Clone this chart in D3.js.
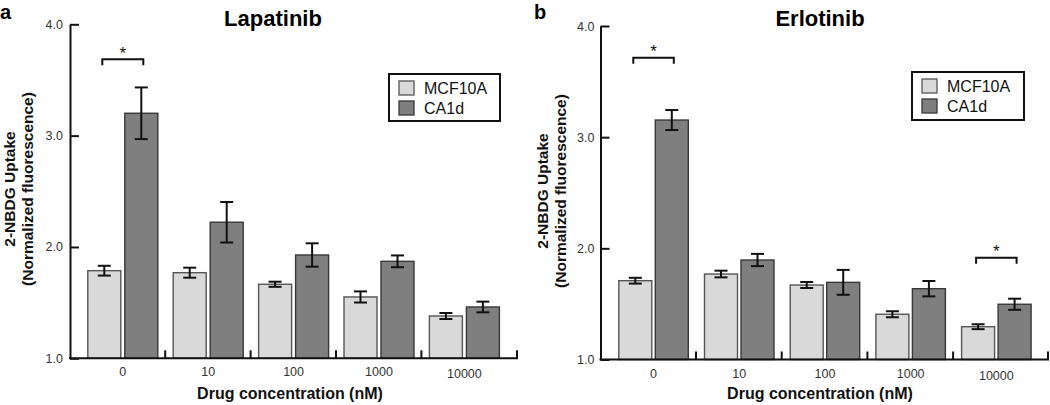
<!DOCTYPE html>
<html>
<head>
<meta charset="utf-8">
<script src="https://cdn.jsdelivr.net/npm/d3@7/dist/d3.min.js"></script>
<style>
  html, body { margin: 0; padding: 0; background: #fff; }
  svg { display: block; font-family: "Liberation Sans", Arial, Helvetica, sans-serif; }
</style>
</head>
<body>
<svg id="chart" width="1050" height="405"></svg>
<script>
// ---------- data ----------
const categories = ["0", "10", "100", "1000", "10000"];
const series = ["MCF10A", "CA1d"];
const yTicks = [1, 2, 3, 4];

const lapMCF10A    = [1.787, 1.769, 1.665, 1.551, 1.380];
const lapMCF10AErr = [0.044, 0.045, 0.023, 0.050, 0.027];
const lapCA1d      = [3.201, 2.222, 1.928, 1.871, 1.461];
const lapCA1dErr   = [0.232, 0.182, 0.105, 0.053, 0.048];

const erlMCF10A    = [1.709, 1.769, 1.670, 1.407, 1.295];
const erlMCF10AErr = [0.026, 0.030, 0.027, 0.027, 0.022];
const erlCA1d      = [3.154, 1.895, 1.694, 1.637, 1.497];
const erlCA1dErr   = [0.090, 0.055, 0.112, 0.069, 0.050];

const lapSig = [{ cat: "0", y: 3.686 }];
const erlSig = [{ cat: "0", y: 3.714 }, { cat: "10000", y: 1.915 }];

// ---------- styles ----------
const fills = { MCF10A: "#d9d9d9", CA1d: "#7f7f7f" };
const strokes = { MCF10A: "#555555", CA1d: "#383838" };

const panels = [
  {
    letter: "a", letterX: 0, title: "Lapatinib", titleX: 273,
    axisX: 70, yBottom: 358.3, yTop: 24.3, bandStart: 79.8, step: 85.4, axisEnd: 518,
    off: 8, bw: 33, gap: 4, tickPad: 7,
    yl1X: 15, yl2X: 33, ylY: 189, xTitleX: 290,
    legend: { x: 389, y: 74, w: 111, h: 47 },
    mcf: lapMCF10A, mcfErr: lapMCF10AErr, ca: lapCA1d, caErr: lapCA1dErr, sig: lapSig
  },
  {
    letter: "b", letterX: 534, title: "Erlotinib", titleX: 820,
    axisX: 600.5, yBottom: 359.5, yTop: 26, bandStart: 610.3, step: 85.7, axisEnd: 1049,
    off: 8.5, bw: 33, gap: 3.5, tickPad: 6,
    yl1X: 548, yl2X: 566, ylY: 191, xTitleX: 820,
    legend: { x: 912, y: 72, w: 112, h: 48 },
    mcf: erlMCF10A, mcfErr: erlMCF10AErr, ca: erlCA1d, caErr: erlCA1dErr, sig: erlSig
  }
];

const svg = d3.select("#chart");

function drawPanel(p) {
  const g = svg.append("g");
  const y = d3.scaleLinear().domain([1, 4]).range([p.yBottom, p.yTop]);
  const x = d3.scaleBand().domain(categories).range([p.bandStart, p.bandStart + 5 * p.step]);
  const xs = d3.scaleBand().domain(series)
    .range([p.off, p.off + 2 * p.bw + p.gap])
    .paddingInner(p.gap / (p.bw + p.gap)).paddingOuter(0);

  const rows = categories.map((c, i) => ({
    cat: c,
    vals: [
      { s: "MCF10A", v: p.mcf[i], e: p.mcfErr[i] },
      { s: "CA1d", v: p.ca[i], e: p.caErr[i] }
    ]
  }));

  // bars
  const grp = g.selectAll("g.grp").data(rows).join("g")
    .attr("transform", d => `translate(${x(d.cat)},0)`);
  grp.selectAll("rect").data(d => d.vals).join("rect")
    .attr("x", d => xs(d.s))
    .attr("y", d => y(d.v))
    .attr("width", xs.bandwidth())
    .attr("height", d => y(1) - y(d.v))
    .attr("fill", d => fills[d.s])
    .attr("stroke", d => strokes[d.s])
    .attr("stroke-width", 1.4);

  // error bars
  const cap = 6.5;
  const eb = grp.selectAll("g.eb").data(d => d.vals).join("g")
    .attr("stroke", "#111").attr("stroke-width", 2).attr("fill", "none");
  eb.append("line")
    .attr("x1", d => xs(d.s) + xs.bandwidth() / 2).attr("x2", d => xs(d.s) + xs.bandwidth() / 2)
    .attr("y1", d => y(d.v + d.e)).attr("y2", d => y(d.v - d.e));
  eb.append("line")
    .attr("x1", d => xs(d.s) + xs.bandwidth() / 2 - cap).attr("x2", d => xs(d.s) + xs.bandwidth() / 2 + cap)
    .attr("y1", d => y(d.v + d.e)).attr("y2", d => y(d.v + d.e));
  eb.append("line")
    .attr("x1", d => xs(d.s) + xs.bandwidth() / 2 - cap).attr("x2", d => xs(d.s) + xs.bandwidth() / 2 + cap)
    .attr("y1", d => y(d.v - d.e)).attr("y2", d => y(d.v - d.e));

  // y axis
  const yAxis = d3.axisLeft(y).tickValues(yTicks).tickFormat(d3.format(".1f"))
    .tickSizeInner(-9).tickSizeOuter(0).tickPadding(p.tickPad);
  const ya = g.append("g").attr("transform", `translate(${p.axisX},0)`).call(yAxis);
  ya.select(".domain").attr("stroke", "#111").attr("stroke-width", 2);
  ya.selectAll(".tick line").attr("stroke", "#111").attr("stroke-width", 2);
  ya.selectAll(".tick text").attr("font-size", 12.5).attr("fill", "#333")
    .attr("font-family", "'Liberation Sans', Arial, sans-serif");

  // x axis baseline
  g.append("line")
    .attr("x1", p.axisX - 1).attr("x2", p.axisEnd)
    .attr("y1", y(1)).attr("y2", y(1))
    .attr("stroke", "#111").attr("stroke-width", 2);
  // x ticks at group boundaries
  const tickXs = categories.slice(1).map(c => x(c)).concat([p.axisEnd - 1]);
  g.selectAll("line.xt").data(tickXs).join("line")
    .attr("x1", d => d).attr("x2", d => d)
    .attr("y1", y(1)).attr("y2", y(1) - 8)
    .attr("stroke", "#111").attr("stroke-width", 2);
  // x tick labels
  g.selectAll("text.xl").data(categories).join("text")
    .attr("x", c => x(c) + p.off + p.bw + p.gap / 2)
    .attr("y", (c, i) => y(1) + 18 + (i === 4 ? 2 : 0))
    .attr("text-anchor", "middle").attr("font-size", 12.5).attr("fill", "#333")
    .text(c => c);

  // significance brackets
  const sg = g.selectAll("g.sig").data(p.sig).join("g")
    .attr("transform", d => `translate(${x(d.cat)},0)`);
  const c1 = xs("MCF10A") + xs.bandwidth() / 2 - 2;
  const c2 = xs("CA1d") + xs.bandwidth() / 2 + 2;
  sg.append("path")
    .attr("d", d => `M${c1},${y(d.y) + 6}V${y(d.y)}H${c2}V${y(d.y) + 6}`)
    .attr("fill", "none").attr("stroke", "#111").attr("stroke-width", 2);
  sg.append("text")
    .attr("x", (c1 + c2) / 2).attr("y", d => y(d.y) - 0.5)
    .attr("text-anchor", "middle").attr("font-size", 17).attr("fill", "#111")
    .text("*");

  // titles
  g.append("text").attr("x", p.letterX).attr("y", 19)
    .attr("font-size", 20).attr("font-weight", "bold").attr("fill", "#000").text(p.letter);
  g.append("text").attr("x", p.titleX).attr("y", 26).attr("text-anchor", "middle")
    .attr("font-size", 22).attr("font-weight", "bold").attr("fill", "#000").text(p.title);
  g.append("text").attr("x", p.xTitleX).attr("y", 399).attr("text-anchor", "middle")
    .attr("font-size", 16).attr("font-weight", "bold").attr("fill", "#111")
    .text("Drug concentration (nM)");
  g.append("text").attr("transform", `translate(${p.yl1X},${p.ylY}) rotate(-90)`)
    .attr("text-anchor", "middle").attr("font-size", 15.5).attr("font-weight", "bold").attr("fill", "#111")
    .text("2-NBDG Uptake");
  g.append("text").attr("transform", `translate(${p.yl2X},${p.ylY}) rotate(-90)`)
    .attr("text-anchor", "middle").attr("font-size", 15.5).attr("font-weight", "bold").attr("fill", "#111")
    .text("(Normalized fluorescence)");

  // legend
  const L = p.legend;
  const lg = g.append("g").attr("transform", `translate(${L.x},${L.y})`);
  lg.append("rect").attr("width", L.w).attr("height", L.h)
    .attr("fill", "#fff").attr("stroke", "#111").attr("stroke-width", 2);
  const li = lg.selectAll("g.li").data(series).join("g")
    .attr("transform", (d, i) => `translate(10,${7 + i * 20})`);
  li.append("rect").attr("width", 15).attr("height", 14)
    .attr("fill", d => fills[d]).attr("stroke", d => strokes[d]).attr("stroke-width", 1.3);
  li.append("text").attr("x", 25).attr("y", 13)
    .attr("font-size", 16).attr("fill", "#111").text(d => d);
}

panels.forEach(drawPanel);
</script>
</body>
</html>
